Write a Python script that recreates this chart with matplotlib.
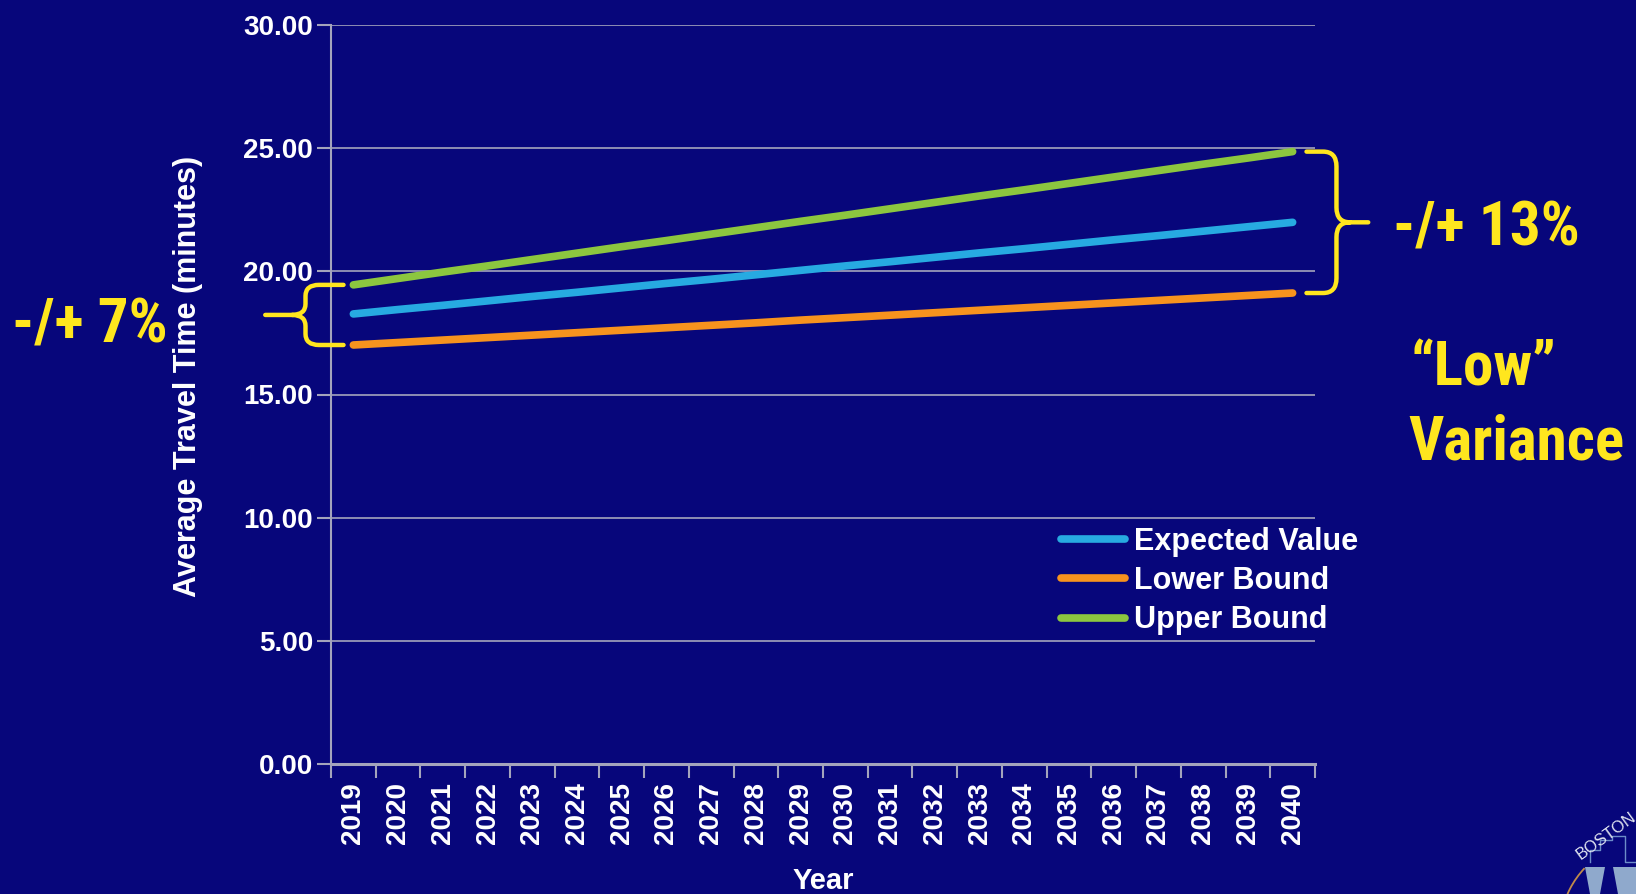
import numpy as np
import matplotlib.pyplot as plt
from matplotlib.path import Path
from matplotlib.patches import PathPatch, Polygon, Arc
from matplotlib import font_manager

# Data
years = [str(y) for y in range(2019, 2041)]
expected = [18.27, 18.45, 18.62, 18.80, 18.98, 19.15, 19.33, 19.51, 19.68, 19.86, 20.04,
            20.22, 20.39, 20.57, 20.75, 20.92, 21.10, 21.28, 21.45, 21.63, 21.81, 21.99]
lower = [17.01, 17.11, 17.21, 17.31, 17.41, 17.51, 17.61, 17.71, 17.81, 17.91, 18.02,
         18.12, 18.22, 18.32, 18.42, 18.52, 18.62, 18.72, 18.82, 18.92, 19.02, 19.12]
upper = [19.45, 19.71, 19.97, 20.22, 20.48, 20.74, 21.00, 21.25, 21.51, 21.77, 22.03,
         22.28, 22.54, 22.80, 23.06, 23.31, 23.57, 23.83, 24.09, 24.35, 24.60, 24.86]
series_names = ['Expected Value', 'Lower Bound', 'Upper Bound']
y_ticks = [0, 5, 10, 15, 20, 25, 30]

BG = '#07067B'
GRID = '#A4A4BC'
YELLOW = '#FFE61E'
colors = ['#27AAE1', '#F7931E', '#8CC63F']

plt.rcParams['font.family'] = ['Liberation Sans', 'DejaVu Sans']
plt.rcParams['font.weight'] = 'bold'

# the yellow notes use a condensed face in the original; take one if installed
names = {f.name for f in font_manager.fontManager.ttflist}
big_family, big_size = ['Liberation Sans', 'DejaVu Sans'], 37
for cand in ['Liberation Sans Narrow', 'Arial Narrow', 'Roboto Condensed',
             'Open Sans Condensed', 'Nimbus Sans Narrow']:
    if cand in names:
        big_family, big_size = [cand, 'Liberation Sans'], 44
        break

W, H = 1636, 894
fig = plt.figure(figsize=(W / 100, H / 100), dpi=100, facecolor=BG)
ax = fig.add_axes([331 / W, 1 - 764 / H, (1315 - 331) / W, (764 - 25) / H])
ax.set_facecolor(BG)

x = np.arange(len(years))
for vals, name, c in zip([expected, lower, upper], series_names, colors):
    ax.plot(x, vals, color=c, lw=5.5, solid_capstyle='round', label=name, zorder=3)

ax.set_xlim(-0.5, len(years) - 0.5)
ax.set_ylim(0, 30)
ax.set_yticks(y_ticks)
ax.set_yticklabels([f'{v:.2f}' for v in y_ticks])
ax.set_xticks(x)
ax.set_xticklabels(years, rotation=90)
ax.set_xticks(np.arange(-0.5, len(years)), minor=True)

ax.tick_params(axis='y', colors=GRID, labelcolor='white', labelsize=20, length=10, width=1.5, pad=3)
ax.tick_params(axis='x', which='major', length=0, labelcolor='white', labelsize=20, pad=13)
ax.tick_params(axis='x', which='minor', colors=GRID, length=10, width=1.5)

ax.grid(axis='y', color=GRID, lw=1.2)
ax.set_axisbelow(True)
for s in ['top', 'right']:
    ax.spines[s].set_visible(False)
ax.spines['left'].set_color(GRID)
ax.spines['left'].set_linewidth(1.5)
ax.spines['bottom'].set_color(GRID)
ax.spines['bottom'].set_linewidth(2.2)

ax.set_ylabel('Average Travel Time (minutes)', color='white', fontsize=22, fontweight='bold')
ax.yaxis.set_label_coords(-0.13, 0.525)
ax.set_xlabel('Year', color='white', fontsize=21, fontweight='bold')
ax.xaxis.set_label_coords(0.5, -0.14)

leg = ax.legend(loc='upper left', bbox_to_anchor=(1061 / W, 1 - 527 / H),
                bbox_transform=fig.transFigure, frameon=False,
                prop={'size': 22, 'weight': 'bold'},
                handlelength=2.1, handletextpad=0.3, labelspacing=0.3,
                borderpad=0, borderaxespad=0)
for t in leg.get_texts():
    t.set_color('white')
for h in leg.get_lines():
    h.set_solid_capstyle('round')


# curly braces drawn in data coordinates
def brace(x_arm, x_sp, x_tip, top, bot, rx, ry):
    mid = (top + bot) / 2
    s = 1 if x_tip > x_sp else -1
    verts = [(x_arm, top), (x_sp - s * rx, top), (x_sp, top), (x_sp, top - ry),
             (x_sp, mid + ry), (x_sp, mid), (x_sp + s * rx, mid), (x_tip, mid),
             (x_sp + s * rx, mid), (x_sp, mid), (x_sp, mid - ry),
             (x_sp, bot + ry), (x_sp, bot), (x_sp - s * rx, bot), (x_arm, bot)]
    codes = [Path.MOVETO, Path.LINETO, Path.CURVE3, Path.CURVE3,
             Path.LINETO, Path.CURVE3, Path.CURVE3, Path.LINETO,
             Path.MOVETO, Path.CURVE3, Path.CURVE3,
             Path.LINETO, Path.CURVE3, Path.CURVE3, Path.LINETO]
    ax.add_patch(PathPatch(Path(verts, codes), fill=False, ec=YELLOW, lw=3.2,
                           capstyle='round', joinstyle='round', clip_on=False, zorder=4))


brace(-0.22, -1.07, -1.97, upper[0], lower[0], 0.3, 0.45)
brace(len(years) - 1 + 0.31, len(years) - 1 + 0.98, len(years) - 1 + 1.69,
      upper[-1], lower[-1], 0.3, 0.6)

txt = dict(color=YELLOW, family=big_family, fontsize=big_size, fontweight='bold',
           ha='left', va='baseline')
fig.text(12 / W, 1 - 342 / H, '-/+ 7%', **txt)
fig.text(1393 / W, 1 - 246 / H, '-/+ 13%', **txt)
fig.text(1410 / W, 1 - 385 / H, '\u201cLow\u201d', **txt)
fig.text(1408 / W, 1 - 460 / H, 'Variance', **txt)

# partial logo in the corner
logo = '#8FA9CC'
fig.add_artist(Polygon([(1585 / W, 1 - 867 / H), (1605 / W, 1 - 867 / H),
                        (1600 / W, 0), (1590 / W, 0)], closed=True,
                       transform=fig.transFigure, fc=logo, ec='none'))
fig.add_artist(Polygon([(1613 / W, 1 - 867 / H), (1636 / W, 1 - 867 / H),
                        (1636 / W, 0), (1618 / W, 0)], closed=True,
                       transform=fig.transFigure, fc=logo, ec='none'))
fig.add_artist(plt.Line2D([1590 / W, 1590 / W, 1600 / W, 1600 / W, 1612 / W, 1612 / W, 1625 / W, 1625 / W, 1636 / W],
                          [1 - 862 / H, 1 - 850 / H, 1 - 850 / H, 1 - 840 / H, 1 - 840 / H, 1 - 836 / H, 1 - 836 / H, 1 - 862 / H, 1 - 862 / H],
                          transform=fig.transFigure, color='#6C8CC8', lw=1))
fig.add_artist(Arc((1650 / W, 1 - 930 / H), 180 / W, 180 / H, theta1=120, theta2=160,
                   transform=fig.transFigure, color='#C08A4A', lw=1.3))
fig.text(1574 / W, 1 - 862 / H, 'BOSTON', color='#E0E4F0', fontsize=12,
         fontweight='normal', rotation=36, ha='left', va='bottom')

fig.savefig('out.png', dpi=100, facecolor=BG)
